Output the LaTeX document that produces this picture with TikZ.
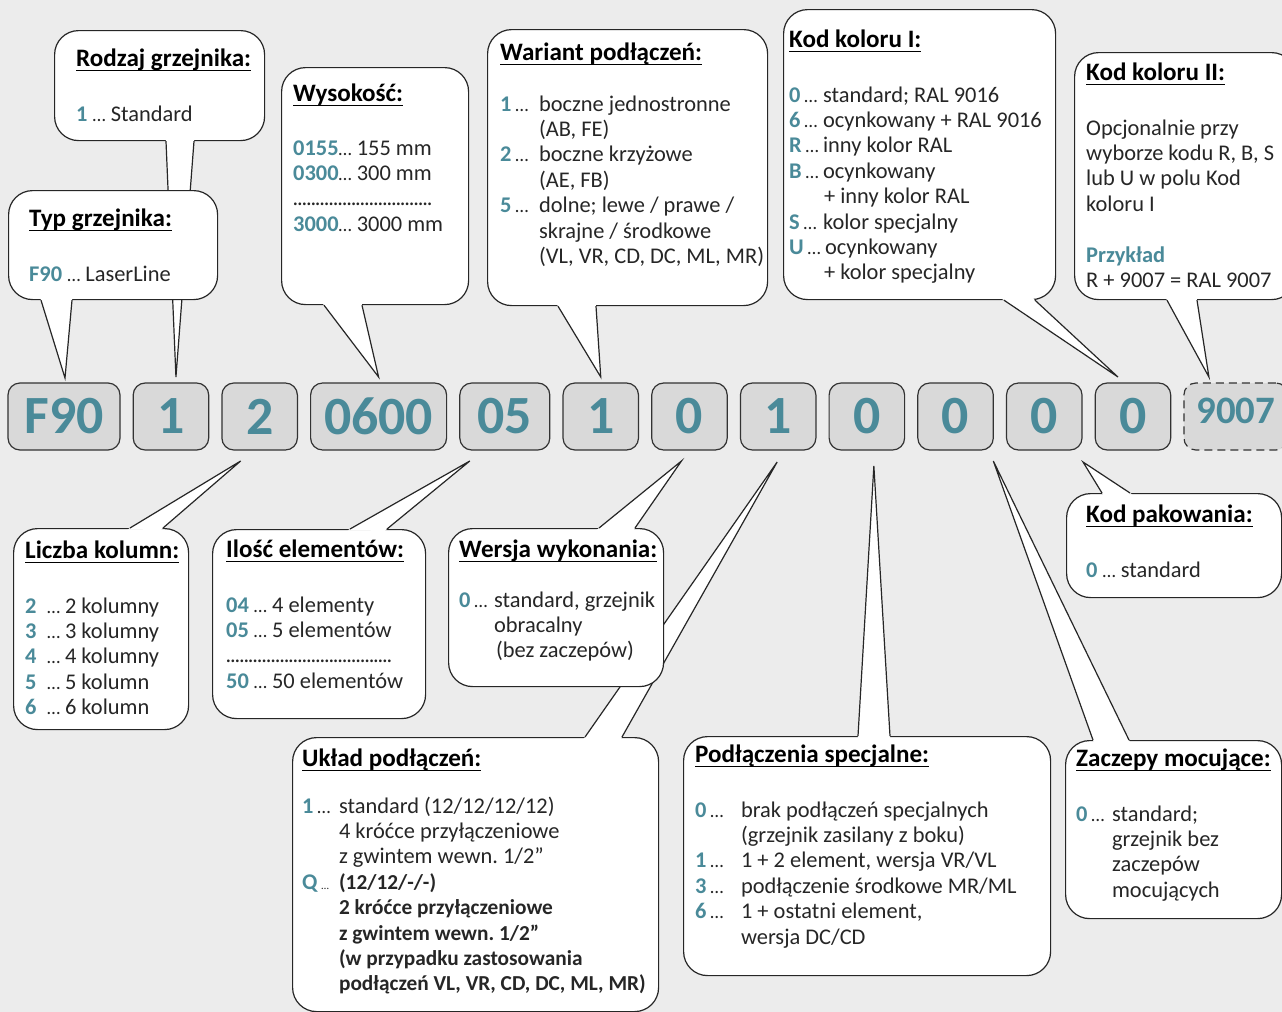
\documentclass[tikz,border=0pt]{standalone}
\usepackage{fontspec}
\setmainfont{Carlito}
\usetikzlibrary{positioning, calc}
\frenchspacing

\definecolor{codeteal}{HTML}{4A8A99}
\definecolor{bggray}{HTML}{ECECEC}
\definecolor{boxgray}{HTML}{D9D9D9}

\newcommand{\tnum}[1]{\textcolor{codeteal}{\bfseries #1}}
\newcommand{\ellip}{{\fontsize{19}{19}\selectfont …}}
\newcommand{\numlead}[2]{\makebox[#1][l]{\tnum{#2}\,\ellip}}
\newcommand{\boxtitle}[1]{\sbox0{#1}\rlap{\rule[-5.5pt]{\wd0}{1.1pt}}\usebox0}
\newcommand{\dotrow}[1]{\makebox[#1][l]{\leaders\hbox to 4.5pt{\hss.\hss}\hskip #1}}
\newcommand{\boldline}[1]{{\bfseries\fontsize{21.4}{25.5}\selectfont #1}}
% tail of a bubble: side point, tip, side point
\newcommand{\tailto}[3]{%
  \fill[white] ($(#1)!-3bp!(#2)$) -- (#2) -- ($(#3)!-3bp!(#2)$) -- cycle;
  \draw[tail] (#1) -- (#2) -- (#3);}

\begin{document}
\begin{tikzpicture}[x=1bp, y=-1bp, node distance=13.2bp,
  code/.style={draw=black!80, line width=1.2bp, fill=boxgray, rounded corners=12bp, minimum width=75.5bp, minimum height=67bp, inner sep=0pt, outer sep=0pt, text=codeteal, font=\bfseries\fontsize{54}{54}\selectfont},
  spare/.style={code, dash pattern=on 8bp off 5bp, minimum width=104bp, text depth=12bp, font=\bfseries\fontsize{39}{39}\selectfont},
  bubble/.style={draw=black!85, line width=1.2bp, fill=white, rounded corners=24bp, inner sep=0pt, anchor=north west},
  tail/.style={draw=black!85, line width=1.2bp},
  heading/.style={anchor=base west, inner sep=0pt, font=\bfseries\fontsize{25.2}{28}\selectfont},
  body/.style={anchor=base west, inner sep=0pt, text=black!85, font=\fontsize{22.5}{25.5}\selectfont}]
  \useasboundingbox (0,0) rectangle (1282,1012);
  \fill[bggray] (0,0) rectangle (1282,1012);

  % the code
  \node[code, minimum width=112bp] (c1) at (64,416.5) {F90};
  \node[code, right=of c1] (c2) {1};
  \node[code, right=of c2] (c3) {2};
  \node[code, minimum width=136bp, right=of c3] (c4) {0600};
  \node[code, minimum width=90bp, right=of c4] (c5) {05};
  \node[code, right=of c5] (c6) {1};
  \node[code, right=of c6] (c7) {0};
  \node[code, right=of c7] (c8) {1};
  \node[code, right=of c8] (c9) {0};
  \node[code, right=of c9] (c10) {0};
  \node[code, right=of c10] (c11) {0};
  \node[code, right=of c11] (c12) {0};
  \node[spare, right=of c12] (c13) {9007};

  % tips of the tails
  \coordinate (pTyp) at ([shift={(1,-5)}]c1.north);
  \coordinate (pRodzaj) at ([shift={(5,-6)}]c2.north);
  \coordinate (pWys) at ([shift={(0,-6)}]c4.north);
  \coordinate (pWariant) at ([shift={(0,-6)}]c6.north);
  \coordinate (pKolor) at ([shift={(-15,-6)}]c12.north);
  \coordinate (pKolorII) at ([shift={(-27,-6)}]c13.north);
  \coordinate (pLiczba) at ([shift={(-19,11)}]c3.south);
  \coordinate (pIlosc) at ([shift={(-35,11)}]c5.south);
  \coordinate (pWersja) at ([shift={(-8,11)}]c7.south);
  \coordinate (pUklad) at ([shift={(-1,12)}]c8.south);
  \coordinate (pSpec) at ([shift={(7,16)}]c9.south);
  \coordinate (pZaczepy) at ([shift={(0,11)}]c10.south east);
  \coordinate (pPak) at ([shift={(1,12)}]c11.south east);

  % bubbles above
  \node[bubble, minimum width=210bp, minimum height=110bp] (bRodzaj) at (54,30) {};
  \tailto{[xshift=112bp]bRodzaj.south west}{pRodzaj}{[xshift=140bp]bRodzaj.south west}
  \node[bubble, minimum width=209bp, minimum height=109bp] (bTyp) at (8,190) {};
  \tailto{[xshift=33bp]bTyp.south west}{pTyp}{[xshift=64bp]bTyp.south west}
  \node[bubble, minimum width=187bp, minimum height=237bp] (bWys) at (281,67) {};
  \tailto{[xshift=43bp]bWys.south west}{pWys}{[xshift=81bp]bWys.south west}
  \node[bubble, minimum width=280bp, minimum height=276bp] (bWariant) at (487,29) {};
  \tailto{[xshift=71bp]bWariant.south west}{pWariant}{[xshift=109bp]bWariant.south west}
  \node[bubble, minimum width=272bp, minimum height=290bp] (bKolor) at (783,9) {};
  \tailto{[xshift=221bp]bKolor.south west}{pKolor}{[xshift=252bp]bKolor.south west}
  \node[bubble, minimum width=221bp, minimum height=247bp] (bKolorII) at (1074,52) {};
  \tailto{[xshift=93bp]bKolorII.south west}{pKolorII}{[xshift=123bp]bKolorII.south west}

  % bubbles below
  \node[bubble, minimum width=175bp, minimum height=201bp] (bLiczba) at (13,528) {};
  \tailto{[xshift=117bp]bLiczba.north west}{pLiczba}{[xshift=150bp]bLiczba.north west}
  \node[bubble, minimum width=213bp, minimum height=189bp] (bIlosc) at (212,529) {};
  \tailto{[xshift=138bp]bIlosc.north west}{pIlosc}{[xshift=175bp]bIlosc.north west}
  \node[bubble, minimum width=366bp, minimum height=274bp] (bUklad) at (292,737) {};
  \tailto{[xshift=293bp]bUklad.north west}{pUklad}{[xshift=330bp]bUklad.north west}
  \node[bubble, minimum width=215bp, minimum height=158bp] (bWersja) at (448,528) {};
  \tailto{[xshift=151bp]bWersja.north west}{pWersja}{[xshift=187bp]bWersja.north west}
  \node[bubble, minimum width=367bp, minimum height=239bp] (bSpec) at (683,736) {};
  \tailto{[xshift=175bp]bSpec.north west}{pSpec}{[xshift=207bp]bSpec.north west}
  \node[bubble, minimum width=216bp, minimum height=178bp] (bZaczepy) at (1065,740) {};
  \tailto{[xshift=28bp]bZaczepy.north west}{pZaczepy}{[xshift=64bp]bZaczepy.north west}
  \node[bubble, minimum width=215bp, minimum height=104bp] (bPak) at (1066,493) {};
  \tailto{[xshift=36bp]bPak.north west}{pPak}{[xshift=64bp]bPak.north west}

  % texts
  \node[heading] (hRodzaj) at (76,66) {\boxtitle{Rodzaj grzejnika:}};
  \node[body] (tRodzaj) at (76,121) {\tnum{1} \ellip\ Standard};
  \node[heading] (hTyp) at (29,226) {\boxtitle{Typ grzejnika:}};
  \node[body] (tTyp) at (29,281) {\tnum{F90} \ellip\ LaserLine};
  \node[heading] (hWys) at (293,101) {\boxtitle{Wysokość:}};
  \node[body] (tWys) at (293,155) {\begin{tabular}[t]{@{}l@{}}
    \tnum{0155}\ellip\ 155 mm\\
    \tnum{0300}\ellip\ 300 mm\\
    \dotrow{140pt}\\
    \tnum{3000}\ellip\ 3000 mm
  \end{tabular}};
  \node[heading] (hWariant) at (500,60) {\boxtitle{Wariant podłączeń:}};
  \node[body] (tWariant) at (500,111) {\begin{tabular}[t]{@{}l@{}}
    \numlead{39pt}{1}boczne jednostronne\\
    \hspace*{39pt}(AB, FE)\\
    \numlead{39pt}{2}boczne krzyżowe\\
    \hspace*{39pt}(AE, FB)\\
    \numlead{39pt}{5}dolne; lewe / prawe /\\
    \hspace*{39pt}skrajne / środkowe\\
    \hspace*{39pt}(VL, VR, CD, DC, ML, MR)
  \end{tabular}};
  \node[heading] (hKolor) at (789,47) {\boxtitle{Kod koloru I:}};
  \node[body] (tKolor) at (789,102) {\begin{tabular}[t]{@{}l@{}}
    \numlead{34pt}{0}standard; RAL 9016\\
    \numlead{34pt}{6}ocynkowany + RAL 9016\\
    \numlead{34pt}{R}inny kolor RAL\\
    \numlead{34pt}{B}ocynkowany\\
    \hspace*{35pt}+ inny kolor RAL\\
    \numlead{34pt}{S}kolor specjalny\\
    \numlead{36pt}{U}ocynkowany\\
    \hspace*{35pt}+ kolor specjalny
  \end{tabular}};
  \node[heading] (hKolorII) at (1086,80) {\boxtitle{Kod koloru II:}};
  \node[body] (tKolorII) at (1086,135) {\begin{tabular}[t]{@{}l@{}}
    Opcjonalnie przy\\
    wyborze kodu R, B, S\\
    lub U w polu Kod\\
    koloru I\\
    \\
    \tnum{Przykład}\\
    R + 9007 = RAL 9007
  \end{tabular}};
  \node[heading] (hLiczba) at (25,558) {\boxtitle{Liczba kolumn:}};
  \node[body] (tLiczba) at (25,613) {\begin{tabular}[t]{@{}l@{}}
    \makebox[22pt][l]{\tnum{2}}\makebox[18pt][l]{\ellip}2 kolumny\\
    \makebox[22pt][l]{\tnum{3}}\makebox[18pt][l]{\ellip}3 kolumny\\
    \makebox[22pt][l]{\tnum{4}}\makebox[18pt][l]{\ellip}4 kolumny\\
    \makebox[22pt][l]{\tnum{5}}\makebox[18pt][l]{\ellip}5 kolumn\\
    \makebox[22pt][l]{\tnum{6}}\makebox[18pt][l]{\ellip}6 kolumn
  \end{tabular}};
  \node[heading] (hIlosc) at (226,557) {\boxtitle{Ilość elementów:}};
  \node[body] (tIlosc) at (226,612) {\begin{tabular}[t]{@{}l@{}}
    \tnum{04} \ellip\ 4 elementy\\
    \tnum{05} \ellip\ 5 elementów\\
    \dotrow{167pt}\\
    \tnum{50} \ellip\ 50 elementów
  \end{tabular}};
  \node[heading] (hWersja) at (459,557) {\boxtitle{Wersja wykonania:}};
  \node[body] (tWersja) at (459,607) {\begin{tabular}[t]{@{}l@{}}
    \numlead{35pt}{0}standard, grzejnik\\
    \hspace*{35pt}obracalny\\
    \hspace*{37pt}(bez zaczepów)
  \end{tabular}};
  \node[heading] (hUklad) at (302,766) {\boxtitle{Układ podłączeń:}};
  \node[body] (tUklad) at (302,813) {\begin{tabular}[t]{@{}l@{}}
    \numlead{37pt}{1}standard (12/12/12/12)\\
    \hspace*{37pt}4 króćce przyłączeniowe\\
    \hspace*{37pt}z gwintem wewn. 1/2”\\
    \makebox[37pt][l]{\tnum{Q}\,{\fontsize{11}{11}\selectfont …}}\boldline{(12/12/-/-)}\\
    \hspace*{37pt}\boldline{2 króćce przyłączeniowe}\\
    \hspace*{37pt}\boldline{z gwintem wewn. 1/2”}\\
    \hspace*{37pt}\boldline{(w przypadku zastosowania}\\
    \hspace*{37pt}\boldline{podłączeń VL, VR, CD, DC, ML, MR)}
  \end{tabular}};
  \node[heading] (hSpec) at (695,762) {\boxtitle{Podłączenia specjalne:}};
  \node[body] (tSpec) at (695,817) {\begin{tabular}[t]{@{}l@{}}
    \numlead{46pt}{0}brak podłączeń specjalnych\\
    \hspace*{46pt}(grzejnik zasilany z boku)\\
    \numlead{46pt}{1}1 + 2 element, wersja VR/VL\\
    \numlead{46pt}{3}podłączenie środkowe MR/ML\\
    \numlead{46pt}{6}1 + ostatni element,\\
    \hspace*{46pt}wersja DC/CD
  \end{tabular}};
  \node[heading] (hZaczepy) at (1076,766) {\boxtitle{Zaczepy mocujące:}};
  \node[body] (tZaczepy) at (1076,821) {\begin{tabular}[t]{@{}l@{}}
    \numlead{36pt}{0}standard;\\
    \hspace*{36pt}grzejnik bez\\
    \hspace*{36pt}zaczepów\\
    \hspace*{36pt}mocujących
  \end{tabular}};
  \node[heading] (hPak) at (1086,522) {\boxtitle{Kod pakowania:}};
  \node[body] (tPak) at (1086,577) {\tnum{0} \ellip\ standard};
\end{tikzpicture}
\end{document}
